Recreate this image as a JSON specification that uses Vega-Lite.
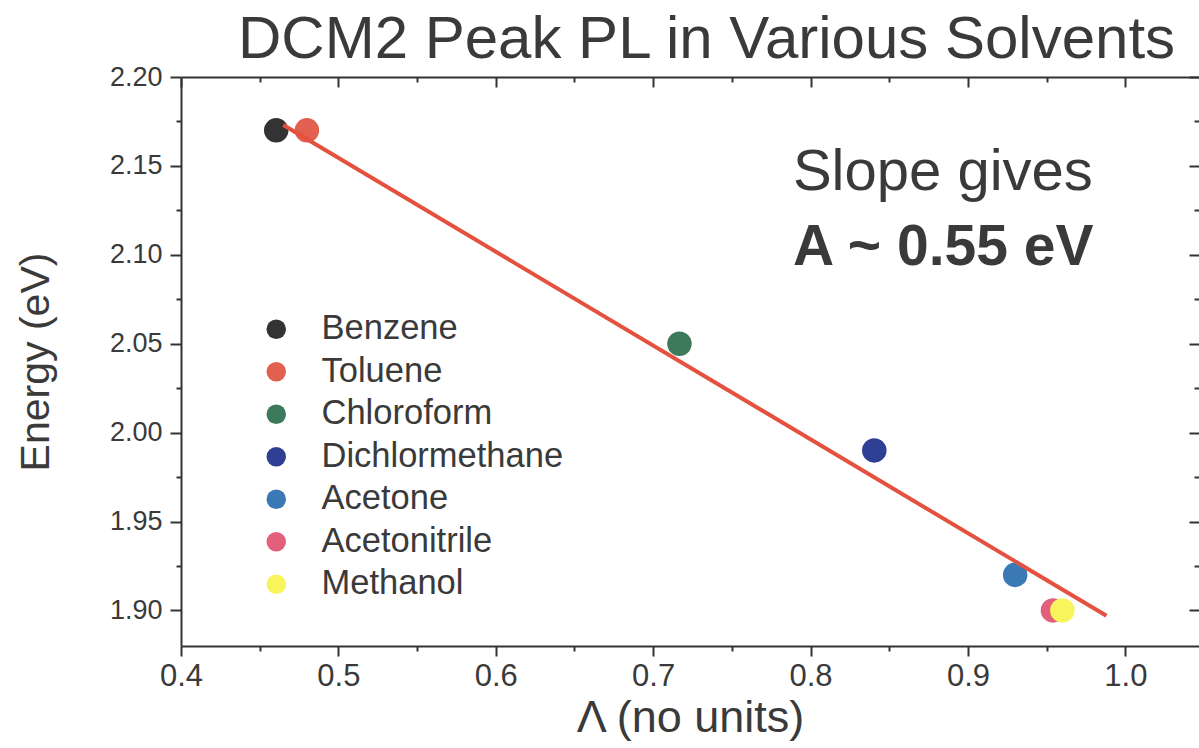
{
  "$schema": "https://vega.github.io/schema/vega-lite/v6.json",
  "width": 1018,
  "height": 569,
  "autosize": "none",
  "padding": {"left": 181, "top": 77, "right": 0, "bottom": 102},
  "background": "white",
  "config": {
    "view": {"stroke": null},
    "font": "Liberation Sans",
    "axis": {
      "grid": false,
      "domainColor": "#333333",
      "domainWidth": 2,
      "tickColor": "#333333",
      "tickWidth": 2,
      "labelColor": "#3a3a3a",
      "titleColor": "#3a3a3a",
      "labelFont": "Liberation Sans",
      "titleFont": "Liberation Sans",
      "titleFontWeight": "normal"
    }
  },
  "title": {
    "text": "DCM2 Peak PL in Various Solvents",
    "fontSize": 60,
    "font": "Liberation Sans",
    "fontWeight": "normal",
    "color": "#3a3a3a",
    "anchor": "start",
    "frame": "group",
    "dx": 57,
    "offset": -8
  },
  "datasets": {
    "points": [
      {"solvent": "Benzene", "lambda": 0.4605, "energy": 2.17},
      {"solvent": "Toluene", "lambda": 0.480, "energy": 2.17},
      {"solvent": "Chloroform", "lambda": 0.7167, "energy": 2.05},
      {"solvent": "Dichlormethane", "lambda": 0.8405, "energy": 1.99},
      {"solvent": "Acetone", "lambda": 0.930, "energy": 1.92},
      {"solvent": "Acetonitrile", "lambda": 0.954, "energy": 1.90},
      {"solvent": "Methanol", "lambda": 0.960, "energy": 1.90}
    ],
    "fit": [
      {"lambda": 0.465, "energy": 2.173},
      {"lambda": 0.988, "energy": 1.897}
    ],
    "note1": [{"lambda": 0.7888, "energy": 2.1365, "label": "Slope gives"}],
    "note2": [{"lambda": 0.7888, "energy": 2.0944, "label": "A ~ 0.55 eV"}]
  },
  "layer": [
    {
      "data": {"name": "points"},
      "mark": {"type": "circle", "size": 600, "opacity": 1},
      "encoding": {
        "x": {
          "field": "lambda", "type": "quantitative",
          "scale": {"domain": [0.4, 1.0468], "nice": false, "zero": false},
          "axis": {
            "orient": "bottom",
            "values": [0.4, 0.45, 0.5, 0.55, 0.6, 0.65, 0.7, 0.75, 0.8, 0.85, 0.9, 0.95, 1.0],
            "tickSize": {"condition": {"test": "abs(datum.value*10 - round(datum.value*10)) < 0.001", "value": 10}, "value": 5},
            "labelExpr": "abs(datum.value*10 - round(datum.value*10)) < 0.001 ? format(datum.value, '.1f') : ''",
            "labelFontSize": 31,
            "labelPadding": 5,
            "labelOverlap": false,
            "labelFlush": false,
            "title": "Λ (no units)",
            "titleFontSize": 45,
            "titlePadding": 4
          }
        },
        "y": {
          "field": "energy", "type": "quantitative",
          "scale": {"domain": [1.88, 2.2], "nice": false, "zero": false},
          "axis": {
            "orient": "left",
            "values": [1.9, 1.925, 1.95, 1.975, 2.0, 2.025, 2.05, 2.075, 2.1, 2.125, 2.15, 2.175, 2.2],
            "tickSize": {"condition": {"test": "abs(datum.value*20 - round(datum.value*20)) < 0.001", "value": 11}, "value": 5},
            "labelExpr": "abs(datum.value*20 - round(datum.value*20)) < 0.001 ? format(datum.value, '.2f') : ''",
            "labelFontSize": 27,
            "labelPadding": 8,
            "labelOverlap": false,
            "labelFlush": false,
            "title": "Energy (eV)",
            "titleFontSize": 41,
            "titlePadding": 52
          }
        },
        "color": {
          "field": "solvent", "type": "nominal",
          "scale": {
            "domain": ["Benzene", "Toluene", "Chloroform", "Dichlormethane", "Acetone", "Acetonitrile", "Methanol"],
            "range": ["#333333", "#e2604f", "#3d7a5c", "#2f3f94", "#3b78b6", "#e2607c", "#f7f45c"]
          },
          "legend": {
            "orient": "none",
            "legendX": 78,
            "legendY": 235,
            "title": null,
            "padding": 0,
            "labelFontSize": 34.5,
            "labelFont": "Liberation Sans",
            "labelColor": "#3a3a3a",
            "labelLimit": 0,
            "symbolSize": 380,
            "symbolType": "circle",
            "symbolStrokeWidth": 0,
            "symbolOpacity": 1,
            "rowPadding": 7.5,
            "labelOffset": 28
          }
        }
      }
    },
    {
      "data": {"name": "fit"},
      "mark": {"type": "line", "color": "#e4513f", "strokeWidth": 4},
      "encoding": {
        "x": {
          "field": "lambda", "type": "quantitative",
          "axis": {
            "orient": "top",
            "values": [0.4, 0.45, 0.5, 0.55, 0.6, 0.65, 0.7, 0.75, 0.8, 0.85, 0.9, 0.95, 1.0],
            "tickSize": {"condition": {"test": "abs(datum.value*10 - round(datum.value*10)) < 0.001", "value": -10}, "value": -5},
            "labels": false,
            "title": null
          }
        },
        "y": {
          "field": "energy", "type": "quantitative",
          "axis": {
            "orient": "right",
            "values": [1.9, 1.925, 1.95, 1.975, 2.0, 2.025, 2.05, 2.075, 2.1, 2.125, 2.15, 2.175, 2.2],
            "tickSize": {"condition": {"test": "abs(datum.value*20 - round(datum.value*20)) < 0.001", "value": -10}, "value": -5},
            "labels": false,
            "domain": false,
            "title": null
          }
        }
      }
    },
    {
      "data": {"name": "note1"},
      "mark": {"type": "text", "align": "left", "baseline": "alphabetic", "fontSize": 58, "font": "Liberation Sans", "color": "#3a3a3a"},
      "encoding": {
        "x": {"field": "lambda", "type": "quantitative", "axis": null},
        "y": {"field": "energy", "type": "quantitative", "axis": null},
        "text": {"field": "label"}
      }
    },
    {
      "data": {"name": "note2"},
      "mark": {"type": "text", "align": "left", "baseline": "alphabetic", "fontSize": 57, "fontWeight": "bold", "font": "Liberation Sans", "color": "#3a3a3a"},
      "encoding": {
        "x": {"field": "lambda", "type": "quantitative", "axis": null},
        "y": {"field": "energy", "type": "quantitative", "axis": null},
        "text": {"field": "label"}
      }
    }
  ],
  "resolve": {"axis": {"x": "independent", "y": "independent"}}
}
